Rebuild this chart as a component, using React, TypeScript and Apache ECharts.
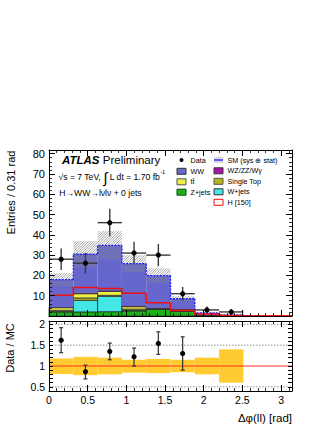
import React, { useEffect, useRef } from 'react';
import * as echarts from 'echarts';

// ---- data ----
const binEdges = [0, 0.3142, 0.6283, 0.9425, 1.2566, 1.5708, 1.885, 2.1991, 2.5133, 2.8274, 3.1416];
const zJets = [2.0, 2.0, 2.1, 2.5, 3.2, 2.3, 0.3, 0.1, 0, 0];
const wJets = [0.3, 5.7, 7.6, 0.3, 0.1, 0.2, 0.1, 0, 0, 0];
const singleTop = [0.5, 1.2, 0.5, 0.6, 0.2, 0.3, 0, 0, 0, 0];
const ttbar = [1.3, 2.1, 1.9, 1.2, 0.3, 0.5, 0.1, 0.1, 0, 0];
const wzZzWg = [0.2, 0.4, 0.5, 0.5, 0.2, 0.1, 0, 0, 0, 0];
const ww = [13.6, 19.1, 22.2, 20.7, 15.9, 5.1, 1.0, 0.3, 0, 0];
const smErr = [3.2, 6.5, 7.0, 4.2, 3.6, 1.4, 0.3, 0.2, 0, 0];
const higgs150 = [10.2, 14.1, 13.5, 11.2, 6.5, 2.7, 1.0, 0.3, 0.1, 0.1];
const dataCounts = [28, 26, 46, 31, 30, 11, 3, 2, 0, 0];
const dataErr = [5.3, 5.1, 6.8, 5.6, 5.5, 3.3, 1.7, 1.4, 0, 0];
const ratioVals = [1.62, 0.86, 1.35, 1.22, 1.54, 1.30];
const ratioErrUp = [0.30, 0.16, 0.20, 0.21, 0.28, 0.40];
const ratioErrDn = [0.30, 0.17, 0.20, 0.22, 0.26, 0.40];
const bandUp = [1.18, 1.22, 1.20, 1.15, 1.17, 1.15, 1.20, 1.40];
const bandDn = [0.81, 0.78, 0.80, 0.84, 0.83, 0.85, 0.80, 0.60];
const ratioRefLines = [0.5, 1.5, 2.0];

const FONT = '"Liberation Sans", Arial, Helvetica, sans-serif';

const compStyles = [
  { name: 'Z+jets', values: zJets, fill: '#1cb01c', stroke: '#0a4a0a' },
  { name: 'W+jets', values: wJets, fill: '#44e6e6', stroke: '#222' },
  { name: 'Single Top', values: singleTop, fill: '#b4b41c', stroke: '#333' },
  { name: 'tt̄', values: ttbar, fill: '#eeee44', stroke: '#333' },
  { name: 'WZ/ZZ/Wγ', values: wzZzWg, fill: '#b010b0', stroke: '#333' },
  { name: 'WW', values: ww, fill: '#6666cc', stroke: null as any },
];

function hatch(x0: number, y0: number, x1: number, y1: number, step: number, color: string, lw: number) {
  const out: any[] = [];
  const start = Math.ceil((x0 + y0) / step) * step;
  for (let c = start; c < x1 + y1; c += step) {
    const xa = Math.max(x0, c - y1);
    const xb = Math.min(x1, c - y0);
    if (xb > xa) {
      out.push({ type: 'line', shape: { x1: xa, y1: c - xa, x2: xb, y2: c - xb }, style: { stroke: color, lineWidth: lw } });
    }
  }
  return out;
}

function rectRenderer(fill: string, stroke: string | null) {
  return (params: any, api: any) => {
    const a = api.coord([api.value(0), api.value(3)]);
    const b = api.coord([api.value(1), api.value(2)]);
    return {
      type: 'rect',
      shape: { x: a[0], y: a[1], width: b[0] - a[0], height: b[1] - a[1] },
      style: stroke ? { fill, stroke, lineWidth: 0.8 } : { fill },
    };
  };
}

function stepRenderer(color: string, width: number, dash?: number[]) {
  return (params: any, api: any) => {
    const x0 = api.value(0), x1 = api.value(1), prev = api.value(2), h = api.value(3);
    const p0 = api.coord([x0, prev]);
    const p1 = api.coord([x0, h]);
    const p2 = api.coord([x1, h]);
    return {
      type: 'polyline',
      shape: { points: [p0, p1, p2] },
      style: { stroke: color, lineWidth: width, fill: null, lineDash: dash || null },
    };
  };
}

function buildOption() {
  const base = new Array(10).fill(0);
  const stackSeries = compStyles.map((c) => {
    const rows: number[][] = [];
    c.values.forEach((v, i) => {
      if (v > 0) rows.push([binEdges[i], binEdges[i + 1], base[i], base[i] + v]);
      base[i] += v;
    });
    return {
      type: 'custom', name: c.name, xAxisIndex: 0, yAxisIndex: 0, z: 2,
      data: rows, encode: { x: [0, 1], y: [2, 3] },
      renderItem: rectRenderer(c.fill, c.stroke),
    };
  });
  const sm = base;

  const hatchRows: number[][] = [];
  sm.forEach((s, i) => {
    if (smErr[i] > 0) hatchRows.push([binEdges[i], binEdges[i + 1], s - smErr[i], s + smErr[i]]);
  });

  const smLineRows: number[][] = [];
  sm.forEach((s, i) => {
    const prev = i > 0 ? sm[i - 1] : s;
    if (prev > 0 || s > 0) smLineRows.push([binEdges[i], binEdges[i + 1], prev, s]);
  });

  const higgsRows: number[][] = higgs150.map((h, i) => [binEdges[i], binEdges[i + 1], i > 0 ? higgs150[i - 1] : h, h]);

  const dataRows: number[][] = [];
  dataCounts.forEach((d, i) => {
    if (d > 0) dataRows.push([binEdges[i], binEdges[i + 1], d, dataErr[i]]);
  });

  const bandRows = bandUp.map((u, i) => [binEdges[i], binEdges[i + 1], bandDn[i], u]);
  const ratioRows = ratioVals.map((r, i) => [(binEdges[i] + binEdges[i + 1]) / 2, r, ratioErrUp[i], ratioErrDn[i]]);

  const xMax = binEdges[binEdges.length - 1];

  const axisCommon = (extra: any) => ({
    type: 'value', z: 10,
    axisLine: { show: true, onZero: false, lineStyle: { color: '#000', width: 1 } },
    axisTick: { show: true, inside: true, length: 6, lineStyle: { color: '#000', width: 1 } },
    minorTick: { show: true, splitNumber: 5, length: 3, lineStyle: { color: '#000', width: 0.8 } },
    splitLine: { show: false },
    minorSplitLine: { show: false },
    axisLabel: { show: false },
    ...extra,
  });

  const halfFmt = (v: number) => (Math.abs(v * 2 - Math.round(v * 2)) < 1e-6 ? String(Math.round(v * 10) / 10) : '');

  const xAxes = [
    axisCommon({ gridIndex: 0, position: 'bottom', min: 0, max: xMax, interval: 0.5 }),
    axisCommon({ gridIndex: 0, position: 'top', min: 0, max: xMax, interval: 0.5 }),
    axisCommon({
      gridIndex: 1, position: 'bottom', min: 0, max: xMax, interval: 0.5,
      axisLabel: { show: true, fontSize: 10.5, color: '#000', fontFamily: FONT, margin: 3, formatter: halfFmt },
    }),
    axisCommon({ gridIndex: 1, position: 'top', min: 0, max: xMax, interval: 0.5 }),
  ];
  const yAxes = [
    axisCommon({
      gridIndex: 0, position: 'left', min: 0, max: 81.8, interval: 10,
      axisLabel: {
        show: true, fontSize: 11, color: '#000', fontFamily: FONT, margin: 4,
        formatter: (v: number) => (v > 0 && Math.abs(v % 10) < 1e-6 ? String(v) : ''),
      },
    }),
    axisCommon({ gridIndex: 0, position: 'right', min: 0, max: 81.8, interval: 10 }),
    axisCommon({
      gridIndex: 1, position: 'left', min: 0.4, max: 2.08, interval: 0.1,
      axisTick: { show: true, inside: true, length: 4, lineStyle: { color: '#000', width: 1 } },
      minorTick: { show: false },
      axisLabel: { show: true, fontSize: 10.5, color: '#000', fontFamily: FONT, margin: 4, formatter: halfFmt },
    }),
    axisCommon({
      gridIndex: 1, position: 'right', min: 0.4, max: 2.08, interval: 0.1,
      axisTick: { show: true, inside: true, length: 4, lineStyle: { color: '#000', width: 1 } },
      minorTick: { show: false },
    }),
  ];

  const series: any[] = [
    ...stackSeries,
    {
      type: 'custom', name: 'SM hatch', xAxisIndex: 0, yAxisIndex: 0, z: 3,
      data: hatchRows, encode: { x: [0, 1], y: [2, 3] },
      renderItem: (params: any, api: any) => {
        const a = api.coord([api.value(0), api.value(3)]);
        const b = api.coord([api.value(1), api.value(2)]);
        return { type: 'group', children: hatch(a[0], a[1], b[0], b[1], 2.5, '#888', 0.75) };
      },
    },
    {
      type: 'custom', name: 'SM line', xAxisIndex: 0, yAxisIndex: 0, z: 4,
      data: smLineRows, encode: { x: [0, 1], y: [2, 3] },
      renderItem: stepRenderer('#1a1aff', 1.3, [2, 1.2]),
    },
    {
      type: 'custom', name: 'H [150]', xAxisIndex: 0, yAxisIndex: 0, z: 5,
      data: higgsRows, encode: { x: [0, 1], y: [2, 3] },
      renderItem: stepRenderer('#f01010', 1.5),
    },
    {
      type: 'custom', name: 'Data', xAxisIndex: 0, yAxisIndex: 0, z: 6,
      data: dataRows, encode: { x: [0, 1], y: 2 },
      renderItem: (params: any, api: any) => {
        const x0 = api.value(0), x1 = api.value(1), y = api.value(2), e = api.value(3);
        const xc = (x0 + x1) / 2;
        const pl = api.coord([x0, y]), pr = api.coord([x1, y]);
        const pt = api.coord([xc, y + e]), pb = api.coord([xc, y - e]);
        const pc = api.coord([xc, y]);
        return {
          type: 'group',
          children: [
            { type: 'line', shape: { x1: pl[0], y1: pl[1], x2: pr[0], y2: pr[1] }, style: { stroke: '#3a3a3a', lineWidth: 1.4 } },
            { type: 'line', shape: { x1: pt[0], y1: pt[1], x2: pb[0], y2: pb[1] }, style: { stroke: '#3a3a3a', lineWidth: 1.4 } },
            { type: 'circle', shape: { cx: pc[0], cy: pc[1], r: 2.6 }, style: { fill: '#000' } },
          ],
        };
      },
    },
    {
      type: 'custom', name: 'Band', xAxisIndex: 2, yAxisIndex: 2, z: 2,
      data: bandRows, encode: { x: [0, 1], y: [2, 3] },
      renderItem: rectRenderer('#ffcb30', null),
    },
    {
      type: 'custom', name: 'Ref lines', xAxisIndex: 2, yAxisIndex: 2, z: 3,
      data: ratioRefLines.map((v) => [v]), encode: { y: 0 },
      renderItem: (params: any, api: any) => {
        const y = api.value(0);
        const a = api.coord([0, y]), b = api.coord([xMax, y]);
        return { type: 'line', shape: { x1: a[0], y1: a[1], x2: b[0], y2: b[1] }, style: { stroke: '#777', lineWidth: 0.8, lineDash: [1.5, 1.5] } };
      },
    },
    {
      type: 'custom', name: 'Unity', xAxisIndex: 2, yAxisIndex: 2, z: 4,
      data: [[1]], encode: { y: 0 },
      renderItem: (params: any, api: any) => {
        const y = api.value(0);
        const a = api.coord([0, y]), b = api.coord([xMax, y]);
        return { type: 'line', shape: { x1: a[0], y1: a[1], x2: b[0], y2: b[1] }, style: { stroke: '#ff3322', lineWidth: 1 } };
      },
    },
    {
      type: 'custom', name: 'Ratio', xAxisIndex: 2, yAxisIndex: 2, z: 5,
      data: ratioRows, encode: { x: 0, y: 1 },
      renderItem: (params: any, api: any) => {
        const x = api.value(0), y = api.value(1), up = api.value(2), dn = api.value(3);
        const pt = api.coord([x, y + up]), pb = api.coord([x, y - dn]), pc = api.coord([x, y]);
        const cap = 2;
        return {
          type: 'group',
          children: [
            { type: 'line', shape: { x1: pt[0], y1: pt[1], x2: pb[0], y2: pb[1] }, style: { stroke: '#333', lineWidth: 1.2 } },
            { type: 'line', shape: { x1: pt[0] - cap, y1: pt[1], x2: pt[0] + cap, y2: pt[1] }, style: { stroke: '#333', lineWidth: 1.2 } },
            { type: 'line', shape: { x1: pb[0] - cap, y1: pb[1], x2: pb[0] + cap, y2: pb[1] }, style: { stroke: '#333', lineWidth: 1.2 } },
            { type: 'circle', shape: { cx: pc[0], cy: pc[1], r: 2.6 }, style: { fill: '#000' } },
          ],
        };
      },
    },
  ];

  // ---- legend & labels as graphic elements ----
  const lf = 7.2;
  const legendText = (x: number, y: number, t: string) => ({
    type: 'text', x, y, style: { text: t, fontSize: lf, fontFamily: FONT, fill: '#000', textAlign: 'left', textVerticalAlign: 'middle' },
  });
  const box = (x: number, y: number, fill: string, stroke: string) => ({
    type: 'rect', shape: { x, y: y - 3, width: 9, height: 6 }, style: { fill, stroke, lineWidth: 1 },
  });
  const c1m = 177, c1t = 190.5, c2m = 214, c2t = 227.5;
  const find = (n: string) => compStyles.find((c) => c.name === n)!;
  const legend: any[] = [
    { type: 'circle', shape: { cx: c1m + 4.5, cy: 160, r: 2 }, style: { fill: '#000' } },
    legendText(c1t, 160, 'Data'),
    box(c1m, 171.3, find('WW').fill, '#333'),
    legendText(c1t, 171.3, 'WW'),
    box(c1m, 181.8, find('tt̄').fill, '#555'),
    legendText(c1t, 181.8, 'tt̄'),
    box(c1m, 192.2, find('Z+jets').fill, '#0a4a0a'),
    legendText(c1t, 192.2, 'Z+jets'),
    { type: 'group', children: hatch(c2m, 157, c2m + 9, 163, 2.2, '#8a8a8a', 0.7) },
    { type: 'line', shape: { x1: c2m, y1: 160, x2: c2m + 9, y2: 160 }, style: { stroke: '#1a1aff', lineWidth: 1.3 } },
    legendText(c2t, 160, 'SM (sys ⊕ stat)'),
    box(c2m, 170.8, find('WZ/ZZ/Wγ').fill, '#333'),
    legendText(c2t, 170.8, 'WZ/ZZ/Wγ'),
    box(c2m, 181.3, find('Single Top').fill, '#555'),
    legendText(c2t, 181.3, 'Single Top'),
    box(c2m, 191.8, find('W+jets').fill, '#333'),
    legendText(c2t, 191.8, 'W+jets'),
    box(c2m, 202.3, '#fff', '#f01010'),
    legendText(c2t, 202.3, 'H [150]'),
  ];

  const tf = 8.6;
  const labels: any[] = [
    {
      type: 'text', x: 62, y: 160,
      style: {
        text: '{a|ATLAS} {b|Preliminary}', textVerticalAlign: 'middle',
        rich: {
          a: { fontSize: 11.5, fontWeight: 'bold', fontStyle: 'italic', fontFamily: FONT, fill: '#000' },
          b: { fontSize: 11.5, fontFamily: FONT, fill: '#000' },
        },
      },
    },
    {
      type: 'text', x: 58.5, y: 177.3,
      style: {
        text: '{n|√s = 7 TeV, }{i|∫}{n| L dt = 1.70 fb}{s|-1}', textVerticalAlign: 'middle',
        rich: {
          n: { fontSize: tf, fontFamily: FONT, fill: '#000', verticalAlign: 'middle', lineHeight: 16 },
          i: { fontSize: 15, fontFamily: FONT, fill: '#000', verticalAlign: 'middle', lineHeight: 16 },
          s: { fontSize: 5.8, fontFamily: FONT, fill: '#000', verticalAlign: 'top', lineHeight: 11 },
        },
      },
    },
    { type: 'text', x: 59.3, y: 192.7, style: { text: 'H→WW→lνlν + 0 jets', fontSize: tf, fontFamily: FONT, fill: '#000', textVerticalAlign: 'middle' } },
    {
      type: 'text', x: 10.5, y: 192.5, rotation: Math.PI / 2,
      style: { text: 'Entries / 0.31 rad', fontSize: 11, fontFamily: FONT, fill: '#000', textAlign: 'center', textVerticalAlign: 'middle' },
    },
    {
      type: 'text', x: 9.5, y: 348, rotation: Math.PI / 2,
      style: { text: 'Data / MC', fontSize: 11, fontFamily: FONT, fill: '#000', textAlign: 'center', textVerticalAlign: 'middle' },
    },
    {
      type: 'text', x: 292, y: 418,
      style: { text: 'Δφ(ll) [rad]', fontSize: 11.5, fontFamily: FONT, fill: '#000', textAlign: 'right', textVerticalAlign: 'middle' },
    },
  ];

  return {
    animation: false,
    backgroundColor: '#fff',
    grid: [
      { left: 49, top: 150, width: 243, height: 166, show: false },
      { left: 49, top: 321, width: 243, height: 70, show: false },
    ],
    xAxis: xAxes,
    yAxis: yAxes,
    series,
    graphic: { elements: [...legend, ...labels] },
  };
}

export default function App() {
  const ref = useRef<HTMLDivElement>(null);
  useEffect(() => {
    const chart = echarts.init(ref.current!, null, { renderer: 'svg' });
    chart.setOption(buildOption() as any);
    return () => chart.dispose();
  }, []);
  return (
    <div
      ref={ref}
      style={{ position: 'absolute', left: 0, top: 0, width: 332, height: 430, background: '#fff' }}
    />
  );
}
